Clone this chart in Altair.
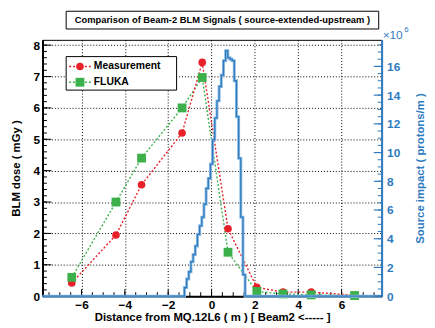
import altair as alt
import pandas as pd
import numpy as np

# ---------------- data ----------------
dist = [-6.45, -4.41, -3.23, -1.36, -0.43, 0.76, 2.09, 3.30, 4.60, 6.60]
measurement = [0.42, 1.95, 3.55, 5.20, 7.45, 2.15, 0.28, 0.13, 0.13, 0.03]
fluka = [0.60, 3.00, 4.40, 6.00, 6.97, 1.40, 0.15, 0.07, 0.04, 0.02]

# source impact histogram (x1e6 protons/m), bin left edges and contents
bin_left = [-1.25, -1.15, -1.05, -0.95, -0.85, -0.75, -0.65, -0.55, -0.45, -0.35,
            -0.25, -0.15, -0.05, 0.05, 0.15, 0.25, 0.35, 0.45, 0.55, 0.65,
            0.75, 0.85, 0.95, 1.05, 1.15, 1.25, 1.35, 1.45]
bin_val = [0.6, 1.2, 1.7, 2.4, 2.9, 3.5, 4.3, 4.9, 5.5, 6.4,
           7.5, 8.2, 9.2, 10.9, 12.4, 13.6, 14.6, 15.4, 16.4, 17.1,
           16.6, 16.5, 16.4, 15.0, 12.5, 9.6, 5.5, 1.5]
bin_width = 0.1

x_ticks = [-6, -4, -2, 0, 2, 4, 6]
yl_ticks = [0, 1, 2, 3, 4, 5, 6, 7, 8]
yr_ticks = [0, 2, 4, 6, 8, 10, 12, 14, 16]

title_text = "Comparison of Beam-2 BLM Signals ( source-extended-upstream )"
x_title = "Distance from MQ.12L6 ( m ) [ Beam2 <----- ]"
yl_title = "BLM dose ( mGy )"
yr_title = "Source impact ( protons/m )"

# ---------------- styling ----------------
RED = "#e8202a"
GREEN = "#3cb04a"
BLUE = "#2f7bbf"
BLUE_LIGHT = "#8dbbe3"
FONT = "Liberation Sans"
W, H = 344, 260
XMIN, XMAX = -7.8, 7.85

xscale = alt.Scale(domain=[XMIN, XMAX], nice=False, zero=False)
ylscale = alt.Scale(domain=[0, 8.17], nice=False, zero=False)
yrscale = alt.Scale(domain=[0, 17.85], nice=False, zero=False)

xaxis = alt.Axis(values=x_ticks, title=x_title, grid=True, gridDash=[1, 2],
                 gridColor="#000000", gridOpacity=1, gridWidth=1,
                 tickSize=0, domainColor="#000000", domainWidth=2,
                 labelFont=FONT, labelFontWeight="bold", labelFontSize=12,
                 labelColor="#000000", labelPadding=4,
                 titleFont=FONT, titleFontWeight="bold", titleFontSize=11.5,
                 titleColor="#000000", titlePadding=1)
ylaxis = alt.Axis(values=yl_ticks, title=yl_title, grid=True, gridDash=[1, 2],
                  gridColor="#000000", gridOpacity=1, gridWidth=1,
                  tickSize=0, domainColor="#000000", domainWidth=2,
                  labelFont=FONT, labelFontWeight="bold", labelFontSize=12,
                  labelColor="#000000", labelPadding=3,
                  titleFont=FONT, titleFontWeight="bold", titleFontSize=11.5,
                  titleColor="#000000", titlePadding=12)
yraxis = alt.Axis(values=yr_ticks, title=yr_title, orient="right", grid=False,
                  tickSize=0, domainColor=BLUE, domainWidth=2,
                  labelFont=FONT, labelFontWeight="bold", labelFontSize=12,
                  labelColor=BLUE, labelPadding=5,
                  titleFont=FONT, titleFontWeight="bold", titleFontSize=11.5,
                  titleColor=BLUE, titleAngle=270, titlePadding=26, zindex=1)

X = alt.X("d:Q", scale=xscale, axis=xaxis)

# ---------------- left (dose) layers ----------------
df_m = pd.DataFrame({"d": dist, "v": measurement})
df_f = pd.DataFrame({"d": dist, "v": fluka})
YL = alt.Y("v:Q", scale=ylscale, axis=ylaxis)

m_line = alt.Chart(df_m).mark_line(color=RED, strokeDash=[2, 2], strokeWidth=1.4).encode(x=X, y=YL)
f_line = alt.Chart(df_f).mark_line(color=GREEN, strokeDash=[2, 2], strokeWidth=1.4).encode(x=X, y=YL)
m_pts = alt.Chart(df_m).mark_point(shape="circle", filled=True, size=60, color=RED, opacity=1).encode(x=X, y=YL)
f_pts = alt.Chart(df_f).mark_point(shape="square", filled=True, size=80, color=GREEN, opacity=1).encode(x=X, y=YL)

# inward ticks
yl_minor = pd.DataFrame({"v": np.round(np.arange(0, 8.01, 0.2), 2)})
yl_major = pd.DataFrame({"v": yl_ticks})
tl_minor = alt.Chart(yl_minor).mark_rule(color="#000000", strokeWidth=1).encode(
    y=YL, x=alt.value(0), x2=alt.value(4.5))
tl_major = alt.Chart(yl_major).mark_rule(color="#000000", strokeWidth=1).encode(
    y=YL, x=alt.value(0), x2=alt.value(9))
xb_minor = pd.DataFrame({"d": np.round(np.arange(-7.5, 7.51, 0.5), 2)})
xb_major = pd.DataFrame({"d": x_ticks})
tb_minor = alt.Chart(xb_minor).mark_rule(color="#000000", strokeWidth=1).encode(
    x=X, y=alt.value(H), y2=alt.value(H - 4))
tb_major = alt.Chart(xb_major).mark_rule(color="#000000", strokeWidth=1).encode(
    x=X, y=alt.value(H), y2=alt.value(H - 7))

# title box
tbox = alt.Chart(pd.DataFrame({"t": [title_text]})).mark_rect(
    fill="white", stroke="#000000", strokeWidth=1).encode(
    x=alt.value(24), x2=alt.value(341), y=alt.value(-29), y2=alt.value(-11))
ttext = alt.Chart(pd.DataFrame({"t": [title_text]})).mark_text(
    font=FONT, fontWeight="bold", fontSize=9.5, color="#000000",
    align="center", baseline="middle").encode(
    text="t:N", x=alt.value(182.5), y=alt.value(-20))

# x10^6 label
e_base = alt.Chart(pd.DataFrame({"t": ["×10"]})).mark_text(
    font=FONT, fontSize=12, color=BLUE, align="left", baseline="middle").encode(
    text="t:N", x=alt.value(W + 1), y=alt.value(-5))
e_exp = alt.Chart(pd.DataFrame({"t": ["6"]})).mark_text(
    font=FONT, fontSize=8, color=BLUE, align="left", baseline="middle").encode(
    text="t:N", x=alt.value(W + 23), y=alt.value(-10))

# legend
lbox = alt.Chart(pd.DataFrame({"t": ["legend"]})).mark_rect(
    fill="white", stroke="#000000", strokeWidth=1).encode(
    x=alt.value(24), x2=alt.value(136), y=alt.value(17), y2=alt.value(51))
leg_layers = []
for lab, col, shape, size, yy in [("Measurement", RED, "circle", 60, 27),
                                  ("FLUKA", GREEN, "square", 80, 43)]:
    d = pd.DataFrame({"t": [lab]})
    leg_layers.append(alt.Chart(d).mark_rule(color=col, strokeDash=[2, 2], strokeWidth=1.4).encode(
        x=alt.value(27), x2=alt.value(50), y=alt.value(yy)))
    leg_layers.append(alt.Chart(d).mark_point(shape=shape, filled=True, size=size,
                                              color=col, opacity=1).encode(
        x=alt.value(38), y=alt.value(yy)))
    leg_layers.append(alt.Chart(d).mark_text(font=FONT, fontWeight="bold", fontSize=10.5,
                                             color="#000000", align="left",
                                             baseline="middle").encode(
        text="t:N", x=alt.value(52), y=alt.value(yy)))

left = alt.layer(tl_minor, tl_major, tb_minor, tb_major,
                 f_line, m_line, m_pts, f_pts,
                 lbox, *leg_layers, tbox, ttext, e_base, e_exp)

# ---------------- right (source impact) layers ----------------
hx = [XMIN, bin_left[0]] + bin_left + [bin_left[-1] + bin_width, XMAX]
hy = [0, 0] + bin_val + [0, 0]
df_h = pd.DataFrame({"d": hx, "v": hy, "i": list(range(len(hx)))})
YR = alt.Y("v:Q", scale=yrscale, axis=yraxis)
h_glow = alt.Chart(df_h).mark_line(interpolate="step-after", color=BLUE_LIGHT,
                                   strokeWidth=3).encode(x=X, y=YR, order="i:Q")
h_line = alt.Chart(df_h).mark_line(interpolate="step-after", color=BLUE,
                                   strokeWidth=1.3).encode(x=X, y=YR, order="i:Q")
yr_minor = pd.DataFrame({"v": np.round(np.arange(0, 17.51, 0.5), 2)})
yr_major = pd.DataFrame({"v": yr_ticks})
tr_minor = alt.Chart(yr_minor).mark_rule(color=BLUE, strokeWidth=1).encode(
    y=YR, x=alt.value(W), x2=alt.value(W - 4))
tr_major = alt.Chart(yr_major).mark_rule(color=BLUE, strokeWidth=1.2).encode(
    y=YR, x=alt.value(W), x2=alt.value(W - 8))

right = alt.layer(h_glow, h_line, tr_minor, tr_major)

chart = alt.layer(left, right).resolve_scale(y="independent").properties(
    width=W, height=H,
    autosize=alt.AutoSizeParams(type="none"),
    padding={"left": 35, "top": 30, "right": 46, "bottom": 30},
    background="white",
).configure_view(stroke="#000000", strokeWidth=1)

chart.save("out.html", embed_options={"renderer": "svg", "actions": False})
